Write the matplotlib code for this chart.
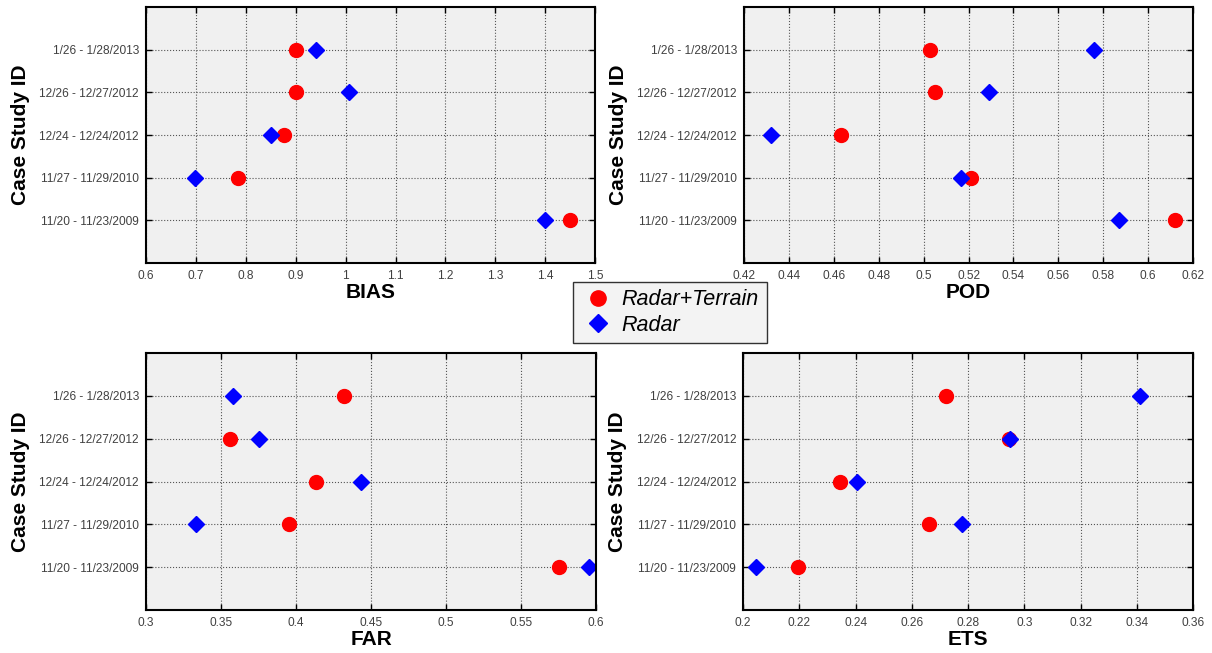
import matplotlib
matplotlib.use("Agg")
import matplotlib.pyplot as plt
from matplotlib.lines import Line2D

plt.rcParams["font.family"] = ["Liberation Sans", "DejaVu Sans"]

cases = ["11/20 - 11/23/2009", "11/27 - 11/29/2010", "12/24 - 12/24/2012",
         "12/26 - 12/27/2012", "1/26 - 1/28/2013"]

bias_rt = [1.45, 0.785, 0.877, 0.90, 0.90]
bias_radar = [1.40, 0.698, 0.85, 1.007, 0.94]
pod_rt = [0.612, 0.521, 0.463, 0.505, 0.503]
pod_radar = [0.587, 0.5165, 0.432, 0.529, 0.576]
far_rt = [0.575, 0.395, 0.413, 0.356, 0.432]
far_radar = [0.595, 0.333, 0.443, 0.375, 0.358]
ets_rt = [0.2195, 0.266, 0.2345, 0.2945, 0.272]
ets_radar = [0.2045, 0.278, 0.2405, 0.295, 0.341]

panels = [
    ("BIAS", bias_rt, bias_radar, (0.6, 1.5), [0.6, 0.7, 0.8, 0.9, 1, 1.1, 1.2, 1.3, 1.4, 1.5]),
    ("POD", pod_rt, pod_radar, (0.42, 0.62), [0.42, 0.44, 0.46, 0.48, 0.5, 0.52, 0.54, 0.56, 0.58, 0.6, 0.62]),
    ("FAR", far_rt, far_radar, (0.3, 0.6), [0.3, 0.35, 0.4, 0.45, 0.5, 0.55, 0.6]),
    ("ETS", ets_rt, ets_radar, (0.2, 0.36), [0.2, 0.22, 0.24, 0.26, 0.28, 0.3, 0.32, 0.34, 0.36]),
]
rects = [
    [0.1205, 0.5972, 0.3705, 0.392],
    [0.6139, 0.5972, 0.3705, 0.392],
    [0.1205, 0.0658, 0.3713, 0.3936],
    [0.6131, 0.0658, 0.3713, 0.3936],
]

fig = plt.figure(figsize=(12.12, 6.53), dpi=100)

for (name, rt, radar, xlim, xticks), rect in zip(panels, rects):
    ax = fig.add_axes(rect)
    ax.set_facecolor("#f0f0f0")
    y = list(range(1, len(cases) + 1))
    ax.plot(rt, y, ls="none", marker="o", ms=10, color="red", mec="red")
    ax.plot(radar, y, ls="none", marker="D", ms=8.5, color="blue", mec="blue")
    ax.set_xlim(*xlim)
    ax.set_ylim(0, 6)
    ax.set_xticks(xticks)
    ax.set_xticklabels([f"{v:g}" for v in xticks])
    ax.set_yticks(y)
    ax.set_yticklabels(cases)
    ax.tick_params(direction="in", top=True, right=True, length=4, width=1,
                   labelsize=8.6, labelcolor="#404040", pad=5)
    ax.grid(True, ls=":", color="#555555", lw=0.8)
    ax.set_axisbelow(True)
    for s in ax.spines.values():
        s.set_linewidth(1.5)
    ax.set_xlabel(name, fontsize=15, fontweight="bold", labelpad=1)
    ax.set_ylabel("Case Study ID", fontsize=15, fontweight="bold")
    ax.yaxis.set_label_coords(-0.258, 0.5)

handles = [
    Line2D([], [], ls="none", marker="o", ms=11, color="red"),
    Line2D([], [], ls="none", marker="D", ms=9.5, color="blue"),
]
leg = fig.legend(handles, ["Radar+Terrain", "Radar"], loc="center",
                 bbox_to_anchor=(0.5528, 0.5215), frameon=True, fancybox=False,
                 prop={"style": "italic", "size": 15.5}, handletextpad=0.3,
                 borderpad=0.35, labelspacing=0.2, handlelength=1.6,
                 borderaxespad=0)
leg.get_frame().set_facecolor("#f0f0f0")
leg.get_frame().set_edgecolor("black")
leg.get_frame().set_linewidth(1)

fig.savefig("out.png", dpi=100)
